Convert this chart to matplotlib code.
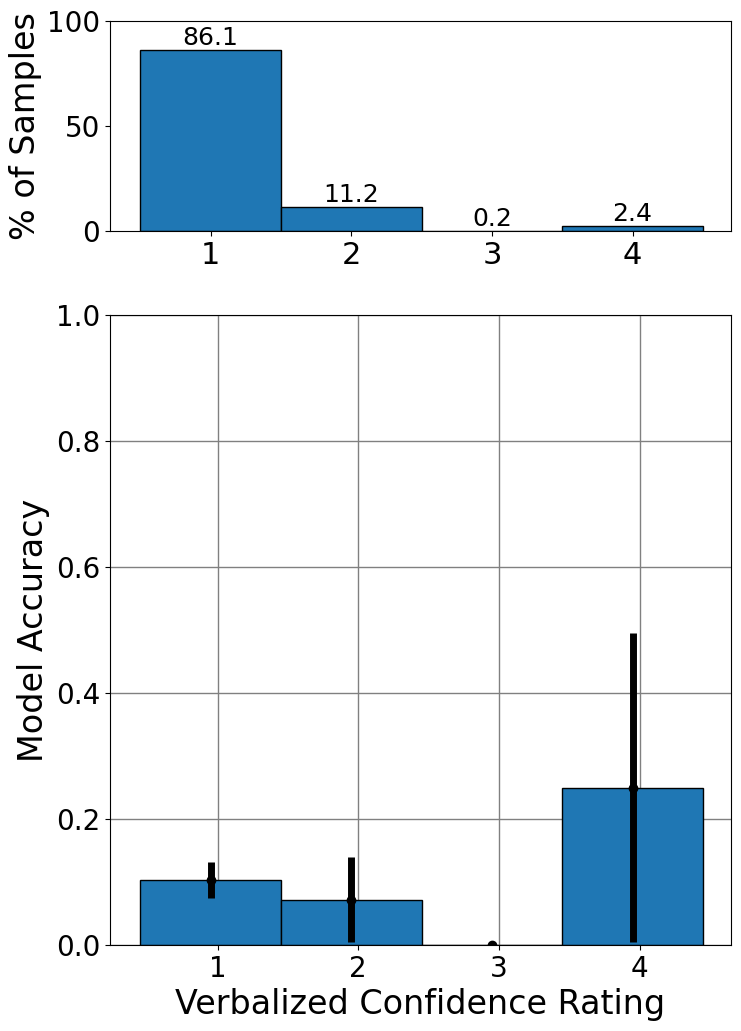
import matplotlib
matplotlib.use("Agg")
import matplotlib.pyplot as plt
import numpy as np

ratings = [1, 2, 3, 4]
pct_samples = [86.1, 11.2, 0.2, 2.4]
accuracy = [0.103, 0.071, 0.0, 0.25]
err_low = [0.075, 0.005, 0.0, 0.005]
err_high = [0.132, 0.14, 0.0, 0.495]

fig = plt.figure(figsize=(7.41, 10.31), dpi=100)
ax1 = fig.add_axes([110/741, 1-231/1031, 621/741, 210/1031])
ax2 = fig.add_axes([110/741, 1-945/1031, 621/741, 630/1031])

color = "#1f77b4"
x = np.array(ratings, dtype=float)

ax1.bar(x, pct_samples, width=1.0, color=color, edgecolor="black", linewidth=1)
for xi, v in zip(x, pct_samples):
    ax1.text(xi, v, f"{v}", ha="center", va="bottom", fontsize=18)
ax1.set_xlim(0.285, 4.7)
ax1.set_ylim(0, 100)
ax1.set_yticks([0, 50, 100])
ax1.set_xticks(ratings)
ax1.tick_params(axis="x", labelsize=22)
ax1.tick_params(axis="y", labelsize=20)
ax1.set_ylabel("% of Samples", fontsize=24)

xb = x - 0.05
acc = np.array(accuracy)
yerr = np.vstack([acc - np.array(err_low), np.array(err_high) - acc])
ax2.set_axisbelow(True)
ax2.grid(True, color="gray", linewidth=1)
ax2.bar(xb, accuracy, width=1.0, color=color, edgecolor="black", linewidth=1)
ax2.errorbar(xb, accuracy, yerr=yerr, fmt="o", color="black", ecolor="black",
             elinewidth=5, markersize=6, capsize=0)
ax2.set_ylim(0, 1.0)
ax2.set_xlim(0.285 - 0.05, 4.7 - 0.05)
ax2.set_xticks(ratings)
ax2.set_yticks([0.0, 0.2, 0.4, 0.6, 0.8, 1.0])
ax2.tick_params(axis="both", labelsize=20)
ax2.set_ylabel("Model Accuracy", fontsize=24)
ax2.set_xlabel("Verbalized Confidence Rating", fontsize=24)

fig.savefig("out.png", dpi=100)
